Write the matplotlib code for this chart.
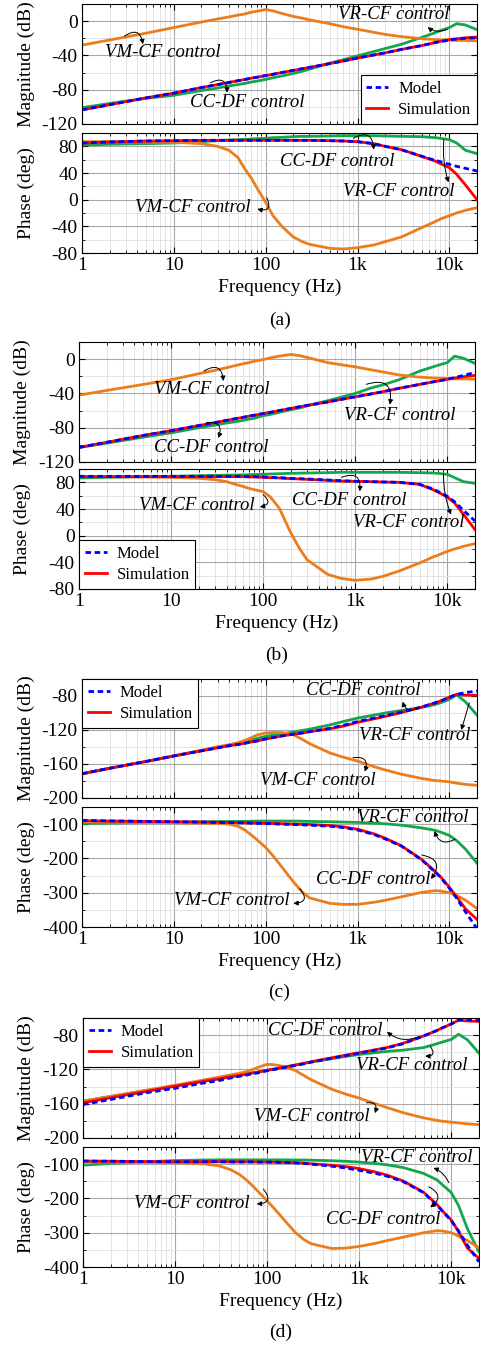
import matplotlib
matplotlib.use('Agg')
import matplotlib.pyplot as plt
from matplotlib.ticker import FixedLocator, FixedFormatter, MultipleLocator, NullFormatter
from matplotlib.lines import Line2D

plt.rcParams['font.family'] = ['Liberation Serif', 'DejaVu Serif']
plt.rcParams['font.size'] = 13.5
plt.rcParams['axes.unicode_minus'] = False

# ============================== DATA ============================== #
freq = [1, 2, 5, 10, 20, 30, 40, 50, 60, 70, 80, 100, 120, 150, 200, 250, 300, 500, 700, 1000,
        1500, 2000, 3000, 5000, 7000, 8000, 10000, 12000, 15000, 20000]

# ---- (a) ----
a_mag_model = [-103.5, -97.5, -89.5, -84, -77.5, -74, -71.5, -69.5, -68, -66.5, -65.5, -63.5, -62, -60, -57.5,
               -55.5, -54, -49.5, -46.5, -43, -39.5, -37, -33, -28.5, -25, -24, -22, -21, -20, -19.5]
a_mag_sim = [-103.5, -97.5, -89.5, -84, -77.5, -74, -71.5, -69.5, -68, -66.5, -65.5, -63.5, -62, -60, -57.5,
             -55.5, -54, -49.5, -46.5, -43, -39.5, -37, -33, -28.5, -25, -23.5, -21.5, -20.5, -19.5, -18.5]
a_mag_vr = [-101, -96, -90, -86.5, -81, -78, -75.5, -74, -72.5, -71, -70, -68, -66, -64, -61,
            -58.5, -56, -49, -45, -40.5, -35.5, -32, -27, -19, -13.5, -11, -7.5, -3, -4.5, -10]
a_mag_vm = [-28, -22, -14, -7.5, -1, 2.5, 5, 7, 8.5, 10.5, 11.5, 13.5, 12, 9, 5.5,
            3.5, 1.5, -3, -6.5, -9.5, -13, -15.5, -18, -20.5, -21.5, -21.8, -22, -22.5, -22.5, -23]
a_ph_model = [85, 86.5, 88, 88.5, 89, 89, 89, 89, 89, 89, 89, 89, 89, 89, 89,
              89, 89, 88.5, 88, 87, 84, 80, 75, 65, 59, 57, 53, 50, 47, 43]
a_ph_sim = [85, 86.5, 88, 88.5, 89, 89, 89, 89, 89, 89, 89, 89, 89, 89, 89,
            89, 89, 88.5, 88, 87, 84, 80, 75, 65, 58, 54, 48, 38, 22, 0]
a_ph_vr = [82, 83, 84, 85, 87, 88.5, 89.5, 90, 90.5, 91, 91.5, 92, 93, 93.5, 94.5,
           95, 95, 95.5, 96, 96, 96, 95.5, 95, 94.5, 93, 92, 90, 85, 74, 69]
a_ph_vm = [87, 87, 86.5, 86, 84, 80, 74, 63, 45, 32, 18, -4, -24, -40, -56,
           -63, -67, -73, -74, -72, -68, -63, -56, -42, -33, -29, -24, -20, -16, -12]

# ---- (b) ----
b_mag_model = [-103, -97, -89, -83.5, -77.5, -74, -71.5, -69.5, -68, -66.5, -65.5, -63.5, -62, -60, -57.5,
               -55.5, -54, -50, -47, -44, -40.5, -38, -34, -29.5, -26.5, -25.5, -23.5, -21.5, -19, -15.5]
b_mag_sim = [-103, -97, -89, -83.5, -77.5, -74, -71.5, -69.5, -68, -66.5, -65.5, -63.5, -62, -60, -57.5,
             -55.5, -54, -50, -47, -44, -40.5, -38, -34, -29.5, -26.5, -25.5, -23.5, -22, -20.5, -19]
b_mag_vr = [-103, -98, -91, -86, -80, -77, -74.5, -73, -71.5, -70, -69, -66, -64.5, -62, -59,
            -57, -54.5, -48.5, -44.5, -40, -33.5, -30, -24, -14, -9, -7, -4, 3.5, 1, -5]
b_mag_vm = [-42, -36.5, -29.5, -24, -17, -13, -10, -7.5, -5.5, -4, -2.5, -0.5, 1.5, 3.5, 5.5,
            4, 2, -4, -6.5, -9, -12.5, -15, -18.5, -21, -22, -22.2, -22.5, -23, -23, -23.5]
b_ph_model = [89, 89, 89, 89, 89, 89, 89, 89, 89, 88.5, 88.5, 88, 87.5, 87, 86,
              85.5, 85, 83.5, 82.5, 81.5, 81, 80.5, 80, 77, 70, 66, 59, 51, 38, 22]
b_ph_sim = [88.5, 88.5, 88.5, 88.5, 88.5, 88.5, 88.5, 88.5, 88.5, 88, 88, 87.5, 87, 86.5, 85.5,
            85, 84.5, 83, 82, 81.5, 81, 80.5, 80, 77, 69, 65, 58, 49, 32, 9]
b_ph_vr = [86.5, 87.5, 88.5, 89, 90, 90.5, 90.8, 91, 91.2, 91.5, 91.7, 92, 92.5, 93, 93.5,
           93.8, 94, 94.5, 95, 95, 95, 95, 95, 94.5, 94, 93.5, 92, 87, 81, 78.5]
b_ph_vm = [89, 88.5, 88, 87.5, 86, 84, 81, 77, 74, 71, 69, 66, 58, 41, 4,
           -20, -36, -58, -64, -67, -65, -61, -53, -41, -32, -29, -23.5, -20, -16, -12]

# ---- (c) ----
c_mag_model = [-171.5, -165, -157, -150.5, -144.5, -141, -138.5, -137, -135.5, -134, -133, -130.5, -129, -127, -125,
               -123.5, -122, -118, -114.5, -110, -106, -103, -99, -93, -88, -86, -81.5, -78, -76, -74]
c_mag_sim = [-171.5, -165, -157, -150.5, -144.5, -141, -138.5, -137, -135.5, -134, -133, -130.5, -129, -127, -125,
             -123.5, -122, -118.5, -115.5, -111, -107, -104, -99.5, -93, -88, -86, -81.5, -78, -79, -79]
c_mag_vr = [-171.5, -165, -157, -150.5, -144, -140, -137.5, -135.5, -133.5, -131.5, -130, -127.5, -126, -124.5, -122.5,
            -120.5, -119, -114, -110, -106, -102.5, -100, -97, -93.5, -90, -88, -84, -78.5, -87, -102.5]
c_mag_vm = [-171.5, -165, -157, -150.5, -144, -140, -137.5, -135, -132, -129, -126, -123.5, -123, -123, -125.5,
            -131, -136, -147, -152, -156.5, -163, -167, -172, -177, -179.5, -180, -181, -182.5, -184, -185]
c_ph_model = [-89, -90.5, -92, -93, -94, -95, -95.5, -96, -96.5, -97, -97.5, -98.5, -99, -100, -101,
              -102, -103, -106, -110, -117, -130, -143, -164, -204, -240, -255, -287, -316, -356, -405]
c_ph_sim = [-90, -91, -92, -93, -94, -94.5, -95, -95.5, -96, -96.5, -97, -97.5, -98, -99, -100,
            -100.5, -101, -104, -108, -115, -128, -141, -163, -203, -238, -253, -284, -312, -347, -378]
c_ph_vr = [-98, -97, -95, -94, -93, -92.5, -92.2, -92, -91.8, -91.5, -91.2, -91, -91, -91, -91,
           -91.5, -92, -93, -94, -95, -97, -99, -103, -111, -118, -123, -133, -148, -173, -214]
c_ph_vm = [-93, -94, -95, -96, -97, -98, -100, -106, -118, -132, -145, -168, -192, -225, -268,
           -298, -315, -331, -334, -334, -328, -322, -312, -299, -294, -295, -300, -308, -322, -346]

# ---- (d) ----
d_mag_model = [-161, -155, -147, -142, -136, -133, -130, -128, -126.5, -125, -124, -121.5, -120, -118, -115.5,
               -113.5, -111.5, -107, -104, -101, -97.5, -95, -90, -81, -74.5, -71.5, -67, -62.5, -62, -63]
d_mag_sim = [-159, -153, -145.5, -139.5, -134, -131, -128.5, -127, -125.5, -124, -123, -121, -119.5, -117.5, -115,
             -113, -111, -106.5, -103.5, -100.5, -97, -94.5, -89.5, -81, -74.5, -71.5, -67, -62.5, -63.5, -64]
d_mag_vr = [-157, -151.5, -144.5, -139.5, -134, -131, -128.5, -127, -125.5, -124, -123, -121, -119.5, -117.5, -115,
            -113, -111.5, -107.5, -105, -102.5, -100.5, -99, -97.5, -94.5, -90, -88, -85, -79, -85.5, -101]
d_mag_vm = [-157, -151.5, -144, -138.5, -132.5, -129, -126.5, -124.5, -122.5, -120, -117.5, -114, -114.5, -116.5, -121,
            -127, -132, -143, -148.5, -153.5, -160, -164.5, -170.5, -176.5, -179.5, -180.5, -181.5, -182.5, -183.5, -184.5]
d_ph_model = [-91, -91.5, -92.5, -93, -93, -93, -93.5, -93.5, -93.5, -93.5, -94, -94, -94.5, -95, -96.5,
              -98, -100, -106, -111, -118, -127, -135, -151, -183, -220, -237, -265, -295, -337, -385]
d_ph_sim = [-91, -91.5, -92.5, -93, -93, -93, -93.5, -93.5, -93.5, -93.5, -94, -94, -94.5, -95, -95.5,
            -97, -99, -103, -107, -113, -123, -132, -149, -182, -218, -236, -263, -297, -345, -375]
d_ph_vr = [-103, -98, -93, -89.5, -88, -87.5, -87.5, -87.5, -87.5, -87.5, -87.5, -87.5, -87.5, -87.5, -88,
           -88, -88.5, -90, -91.5, -94, -98, -102, -110, -127, -146, -160, -183, -221, -289, -356]
d_ph_vm = [-93, -94, -95, -96, -99, -105, -116, -130, -147, -164, -180, -207, -230, -260, -298,
           -320, -332, -346, -345, -340, -331, -323, -313, -300, -294, -295, -300, -310, -323, -344]

xticks = [1, 10, 100, 1000, 10000]
xtick_labels = ['1', '10', '100', '1k', '10k']

# annotations: (label, text pos, arrow tail, arrow head, rad)
a_mag_notes = [('VM-CF control', (7.6, -36.5), (2.9, -17.6), (4.6, -27), -0.8),
               ('CC-DF control', (63, -95), (25, -72), (38, -83.5), -0.8),
               ('VR-CF control', (2460, 8), (9500, -9.4), (5800, -7), -0.3)]
a_ph_notes = [('CC-DF control', (600, 58), (900, 92), (1500, 75), -0.8),
              ('VR-CF control', (2800, 13), (8700, 90), (9800, 26), 0.1),
              ('VM-CF control', (16, -12), (103, 3), (81, -14), -1.0)]
b_mag_notes = [('VM-CF control', (27.6, -36), (22.7, -14), (37, -25.5), -0.8),
               ('VR-CF control', (3050, -66), (1320, -29.4), (2380, -53), -0.8),
               ('CC-DF control', (27.6, -103), (24.3, -74), (32.5, -92), -0.8)]
b_ph_notes = [('CC-DF control', (862, 53), (710, 87.5), (1120, 66.5), -0.8),
              ('VR-CF control', (3780, 20), (9100, 93), (11000, 31.5), 0.1),
              ('VM-CF control', (19, 45.5), (100, 61.5), (92, 43), -1.0)]
c_mag_notes = [('CC-DF control', (1150, -74), (4600, -94), (3100, -86.6), -0.6),
               ('VR-CF control', (4200, -127), (16500, -88), (13500, -120), 0.0),
               ('VM-CF control', (372, -179), (895, -152.6), (1200, -169), -0.8)]
c_ph_notes = [('VR-CF control', (4000, -82), (11500, -144), (6900, -120), -0.6),
              ('CC-DF control', (1480, -260), (5000, -190), (6300, -260), -0.8),
              ('VM-CF control', (42.6, -322), (235, -288), (200, -331), -1.0)]
d_mag_notes = [('CC-DF control', (427, -75), (4400, -82), (2000, -76), -0.3),
               ('VR-CF control', (3700, -116), (5900, -93), (5200, -104.5), -1.0),
               ('VM-CF control', (305, -175), (1200, -159), (1480, -171), -0.8)]
d_ph_notes = [('VR-CF control', (4200, -82), (9400, -154), (6400, -111), 0.2),
              ('CC-DF control', (1840, -260), (5700, -166), (5900, -226), -0.8),
              ('VM-CF control', (15.2, -215), (91, -173), (77, -216), -1.0)]
# ================================================================== #

BLUE = '#0000ff'
RED = '#ff0000'
GREEN = '#14a64c'
ORANGE = '#ec7d1c'

W, H = 480, 1347
fig = plt.figure(figsize=(W / 100, H / 100), dpi=100)


def make_ax(left, right, top, bottom):
    return fig.add_axes([left / W, 1 - bottom / H, (right - left) / W, (bottom - top) / H])


def style_ax(ax, ylim, major, minor, ylabel, show_x):
    ax.set_xscale('log')
    ax.set_xlim(1, 20000)
    ax.set_ylim(*ylim)
    ax.yaxis.set_major_locator(MultipleLocator(major))
    ax.yaxis.set_minor_locator(MultipleLocator(minor))
    ax.xaxis.set_major_locator(FixedLocator(xticks))
    if show_x:
        ax.xaxis.set_major_formatter(FixedFormatter(xtick_labels))
        ax.set_xlabel('Frequency (Hz)', fontsize=14, labelpad=3)
    else:
        ax.xaxis.set_major_formatter(NullFormatter())
    ax.xaxis.set_minor_formatter(NullFormatter())
    ax.grid(True, which='major', color='#a8a8a8', lw=0.8)
    ax.grid(True, which='minor', color='#dedede', lw=0.6)
    ax.set_axisbelow(True)
    ax.tick_params(which='both', direction='in', top=True, right=True, labelsize=14, pad=3)
    ax.tick_params(which='major', length=4)
    ax.tick_params(which='minor', length=2)
    ax.set_ylabel(ylabel, fontsize=14)
    ax.yaxis.set_label_coords(-0.12, 0.5)


def draw(ax, model, sim, vr, vm):
    ax.plot(freq, vr, color=GREEN, lw=2)
    ax.plot(freq, vm, color=ORANGE, lw=2)
    ax.plot(freq, sim, color=RED, lw=2)
    ax.plot(freq, model, color=BLUE, lw=2, ls=(0, (2, 1.3)))


def notes(ax, items):
    for label, txt, tail, head, rad in items:
        ax.text(txt[0], txt[1], label, style='italic', fontsize=13.5, ha='center', va='center')
        ax.annotate('', xy=head, xytext=tail,
                    arrowprops=dict(arrowstyle='-|>', color='k', lw=0.7, mutation_scale=7,
                                    shrinkA=0, shrinkB=0, connectionstyle='arc3,rad=%s' % rad))


def legend(ax, loc):
    h = [Line2D([], [], color=BLUE, lw=2, ls=(0, (2, 1.3))), Line2D([], [], color=RED, lw=2)]
    lg = ax.legend(h, ['Model', 'Simulation'], loc=loc, fontsize=12, fancybox=False,
                   edgecolor='k', framealpha=1, borderaxespad=0, handlelength=1.3,
                   borderpad=0.35, labelspacing=0.3, handletextpad=0.6)
    lg.get_frame().set_linewidth(0.8)


panels = [
    dict(lr=(82, 477), mag=(4, 124), ph=(133, 253), cap=320, label='(a)',
         mag_data=(a_mag_model, a_mag_sim, a_mag_vr, a_mag_vm), ph_data=(a_ph_model, a_ph_sim, a_ph_vr, a_ph_vm),
         mag_lim=(-120, 20), ph_lim=(-80, 100), mag_tick=(40, 20), ph_tick=(40, 20),
         notes=(a_mag_notes, a_ph_notes), leg=('mag', 'lower right')),
    dict(lr=(79, 475), mag=(342, 462), ph=(469, 589), cap=655, label='(b)',
         mag_data=(b_mag_model, b_mag_sim, b_mag_vr, b_mag_vm), ph_data=(b_ph_model, b_ph_sim, b_ph_vr, b_ph_vm),
         mag_lim=(-120, 20), ph_lim=(-80, 100), mag_tick=(40, 20), ph_tick=(40, 20),
         notes=(b_mag_notes, b_ph_notes), leg=('ph', 'lower left')),
    dict(lr=(82, 477), mag=(679, 798), ph=(807, 927), cap=992, label='(c)',
         mag_data=(c_mag_model, c_mag_sim, c_mag_vr, c_mag_vm), ph_data=(c_ph_model, c_ph_sim, c_ph_vr, c_ph_vm),
         mag_lim=(-200, -60), ph_lim=(-400, -50), mag_tick=(40, 20), ph_tick=(100, 50),
         notes=(c_mag_notes, c_ph_notes), leg=('mag', 'upper left')),
    dict(lr=(83, 479), mag=(1018, 1138), ph=(1147, 1267), cap=1332, label='(d)',
         mag_data=(d_mag_model, d_mag_sim, d_mag_vr, d_mag_vm), ph_data=(d_ph_model, d_ph_sim, d_ph_vr, d_ph_vm),
         mag_lim=(-200, -60), ph_lim=(-400, -50), mag_tick=(40, 20), ph_tick=(100, 50),
         notes=(d_mag_notes, d_ph_notes), leg=('mag', 'upper left')),
]

for p in panels:
    l, r = p['lr']
    ax_m = make_ax(l, r, *p['mag'])
    ax_p = make_ax(l, r, *p['ph'])
    draw(ax_m, *p['mag_data'])
    draw(ax_p, *p['ph_data'])
    style_ax(ax_m, p['mag_lim'], *p['mag_tick'], 'Magnitude (dB)', False)
    style_ax(ax_p, p['ph_lim'], *p['ph_tick'], 'Phase (deg)', True)
    notes(ax_m, p['notes'][0])
    notes(ax_p, p['notes'][1])
    legend(ax_m if p['leg'][0] == 'mag' else ax_p, p['leg'][1])
    fig.text((l + r) / 2 / W, 1 - p['cap'] / H, p['label'], ha='center', va='center', fontsize=14)

fig.savefig('out.png', dpi=100)
